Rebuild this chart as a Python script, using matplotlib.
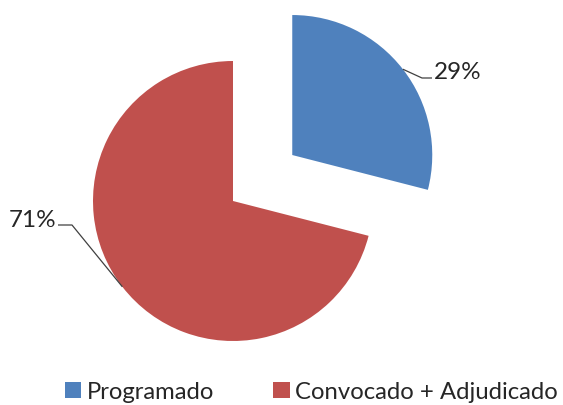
import matplotlib.pyplot as plt
import numpy as np
from matplotlib.patches import Patch

labels = ["Programado", "Convocado + Adjudicado"]
shares = [29, 71]
colors = ["#4F81BD", "#C0504D"]
explode = [75, 0]  # pie() takes this in data units, not radius fractions

plt.rcParams["font.family"] = ["Lato", "DejaVu Sans"]

fig = plt.figure(figsize=(5.63, 4.06), dpi=100)
ax = fig.add_axes([0, 0, 1, 1])

center = (233, 204)
radius = 140
wedges, _ = ax.pie(shares, colors=colors, explode=explode, startangle=90,
                   counterclock=False, center=center, radius=radius,
                   wedgeprops=dict(linewidth=0), frame=True)
ax.set_xlim(0, 563)
ax.set_ylim(0, 406)
ax.set_aspect("equal")
ax.axis("off")

# leader lines + labels, anchored at each wedge's mid-angle
label_layout = [
    # (elbow, end, text pos, ha)
    ((422, 327), (432, 327), (434, 327), "left"),
    ((72, 180), (58, 180), (56, 179), "right"),
]
for w, share, (elbow, end, tpos, ha) in zip(wedges, shares, label_layout):
    mid = np.deg2rad((w.theta1 + w.theta2) / 2)
    cx, cy = w.center
    sx = cx + w.r * np.cos(mid)
    sy = cy + w.r * np.sin(mid)
    ax.plot([sx, elbow[0], end[0]], [sy, elbow[1], end[1]],
            color="#404040", linewidth=0.9, solid_capstyle="butt")
    ax.text(tpos[0], tpos[1], f"{share}%", ha=ha, va="baseline",
            fontsize=17.5, color="#262626")

handles = [Patch(facecolor=c, edgecolor="none") for c in colors]
leg = fig.legend(handles, labels, loc="lower left", ncol=2, frameon=False,
                 bbox_to_anchor=(0.086, -0.035), fontsize=17.2,
                 handlelength=0.68, handleheight=0.68, handletextpad=0.22,
                 columnspacing=2.48, borderpad=0.2)
for t in leg.get_texts():
    t.set_color("#262626")

fig.savefig("out.png", dpi=100)
